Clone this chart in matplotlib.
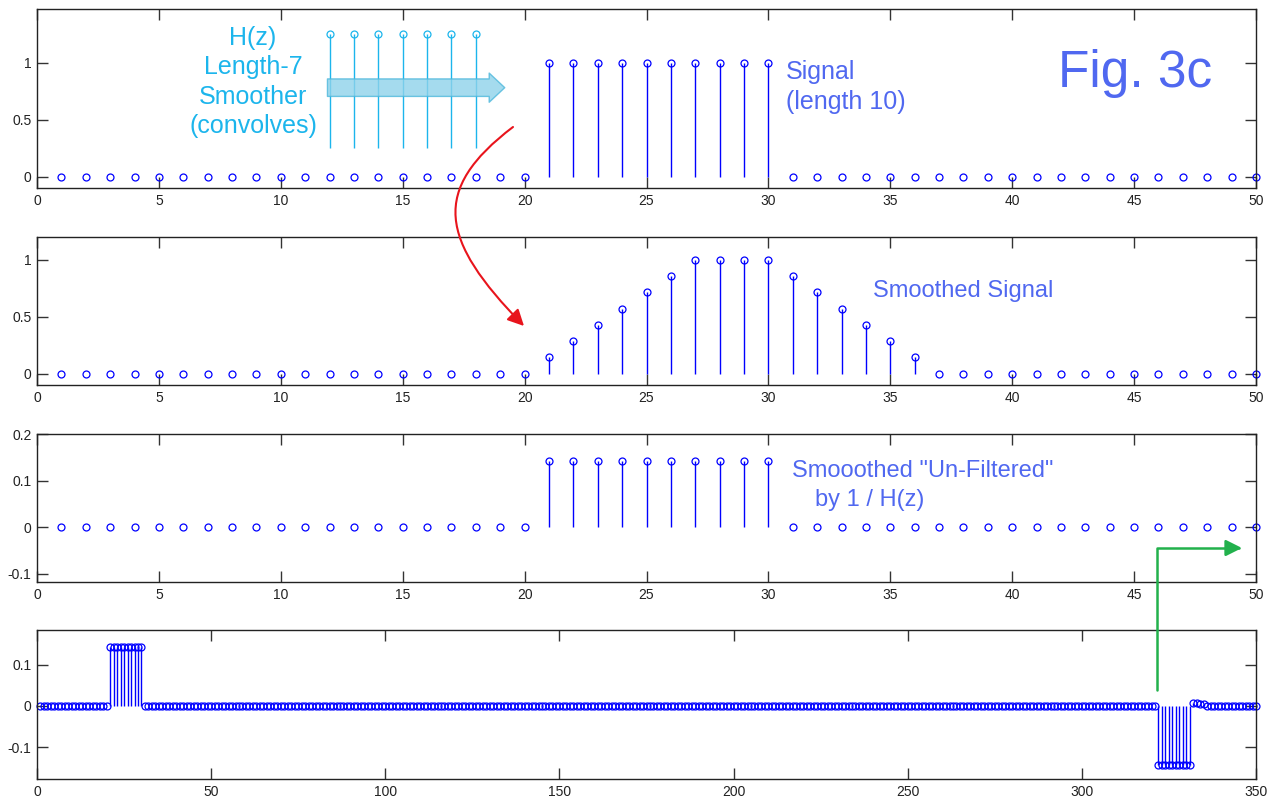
import numpy as np
import matplotlib
matplotlib.use("Agg")
import matplotlib.pyplot as plt
from matplotlib.patches import FancyArrowPatch
from matplotlib.path import Path

plt.rcParams['font.family'] = ['Liberation Sans', 'DejaVu Sans']

# ---- data ----
n50 = np.arange(1, 51)
signal = [0]*20 + [1, 1, 1, 1, 1, 1, 1, 1, 1, 1] + [0]*20
smoothed = [0]*20 + [0.143, 0.286, 0.429, 0.571, 0.714, 0.857, 1, 1, 1, 1,
                     0.857, 0.714, 0.571, 0.429, 0.286, 0.143] + [0]*14
unfiltered = [0]*20 + [0.143]*10 + [0]*20

h_n = [12, 13, 14, 15, 16, 17, 18]
h_top = [1.25, 1.25, 1.25, 1.25, 1.25, 1.25, 1.25]
h_base = 0.25

n350 = np.arange(1, 351)
pos_block = [0.143, 0.143, 0.143, 0.143, 0.143, 0.143, 0.143, 0.143, 0.143, 0.143]
neg_block = [-0.143, -0.143, -0.143, -0.143, -0.143, -0.143, -0.143, -0.143, -0.143, -0.143]
tail_bump = [0.006, 0.006, 0.005, 0.004]
long_sig = np.zeros(350)
long_sig[20:30] = pos_block
long_sig[321:331] = neg_block
long_sig[331:335] = tail_bump

BLUE = '#0000FF'
CYAN = '#1CB5EC'
TXT = '#5068F0'

fig = plt.figure(figsize=(12.74, 8.01), dpi=100)

def mk(rect):
    ax = fig.add_axes(rect)
    ax.tick_params(direction='in', length=8, width=1, top=True, right=True,
                   labelsize=10, colors='#333333', labelcolor='#222222', pad=4)
    for s in ax.spines.values():
        s.set_linewidth(1.0)
        s.set_color('#222222')
    return ax

def stemplot(ax, x, y, col=BLUE, ms=5, lw=1.0, bottom=0):
    ml, sl, bl = ax.stem(x, y, bottom=bottom, basefmt=' ')
    plt.setp(sl, color=col, linewidth=lw)
    plt.setp(ml, color=col, marker='o', markerfacecolor='none',
             markersize=ms, markeredgewidth=0.9, clip_on=False)
    return ml

W = 1274.0
H = 801.0
def rect(top, bot):
    return [37/W, 1 - bot/H, (1256-37)/W, (bot-top)/H]

# panel 1
ax1 = mk(rect(9, 188))
stemplot(ax1, n50, signal)
ml = stemplot(ax1, h_n, h_top, col=CYAN, bottom=h_base)
ax1.set_xlim(0, 50)
ax1.set_ylim(-0.1, 1.47)
ax1.set_xticks(range(0, 51, 5))
ax1.set_yticks([0, 0.5, 1])
ax1.set_yticklabels(['0', '0.5', '1'])
ax1.annotate('', xy=(19.3, 0.78), xytext=(11.8, 0.78),
             arrowprops=dict(arrowstyle='simple,head_width=1.5,head_length=0.8,tail_width=0.9',
                             fc='#8FD3EA', ec='#4DB8DC', alpha=0.8, lw=1, mutation_scale=14))
ax1.text(8.86, 0.83, 'H(z)\nLength-7\nSmoother\n(convolves)', color=CYAN,
         fontsize=18, ha='center', va='center', linespacing=1.27)
ax1.text(30.72, 0.785, 'Signal\n(length 10)', color=TXT, fontsize=18,
         ha='left', va='center', linespacing=1.3)
ax1.text(45.04, 0.9, 'Fig. 3c', color=TXT, fontsize=37, ha='center', va='center')

# panel 2
ax2 = mk(rect(237, 385))
stemplot(ax2, n50, smoothed)
ax2.set_xlim(0, 50)
ax2.set_ylim(-0.1, 1.2)
ax2.set_xticks(range(0, 51, 5))
ax2.set_yticks([0, 0.5, 1])
ax2.set_yticklabels(['0', '0.5', '1'])
ax2.text(34.3, 0.726, 'Smoothed Signal', color=TXT, fontsize=17, ha='left', va='center')

# panel 3
ax3 = mk(rect(434, 582))
stemplot(ax3, n50, unfiltered)
ax3.set_xlim(0, 50)
ax3.set_ylim(-0.118, 0.2)
ax3.set_xticks(range(0, 51, 5))
ax3.set_yticks([-0.1, 0, 0.1, 0.2])
ax3.set_yticklabels(['-0.1', '0', '0.1', '0.2'])
ax3.text(30.97, 0.120, 'Smooothed "Un-Filtered"', color=TXT, fontsize=17, ha='left', va='center')
ax3.text(31.9, 0.058, 'by 1 / H(z)', color=TXT, fontsize=17, ha='left', va='center')

# panel 4
ax4 = mk(rect(630, 779))
stemplot(ax4, n350, long_sig)
ax4.set_xlim(0, 350)
ax4.set_ylim(-0.177, 0.184)
ax4.set_xticks(range(0, 351, 50))
ax4.set_yticks([-0.1, 0, 0.1])
ax4.set_yticklabels(['-0.1', '0', '0.1'])

# red curved arrow (figure pixels -> fraction)
def fp(x, y):
    return (x / W, 1 - y / H)

red_path = Path([fp(513, 127), fp(430, 190), fp(440, 240), fp(524, 326)],
                [Path.MOVETO, Path.CURVE4, Path.CURVE4, Path.CURVE4])
fig.add_artist(FancyArrowPatch(path=red_path, transform=fig.transFigure,
                               arrowstyle='-|>,head_length=0.7,head_width=0.35',
                               mutation_scale=14, color='#E8141C', lw=1.5))

green_path = Path([fp(1157, 690), fp(1157, 548), fp(1242, 548)],
                  [Path.MOVETO, Path.LINETO, Path.LINETO])
fig.add_artist(FancyArrowPatch(path=green_path, transform=fig.transFigure,
                               arrowstyle='-|>,head_length=0.7,head_width=0.35',
                               mutation_scale=14, color='#22B14C', lw=1.8))

fig.savefig('out.png', dpi=100)
